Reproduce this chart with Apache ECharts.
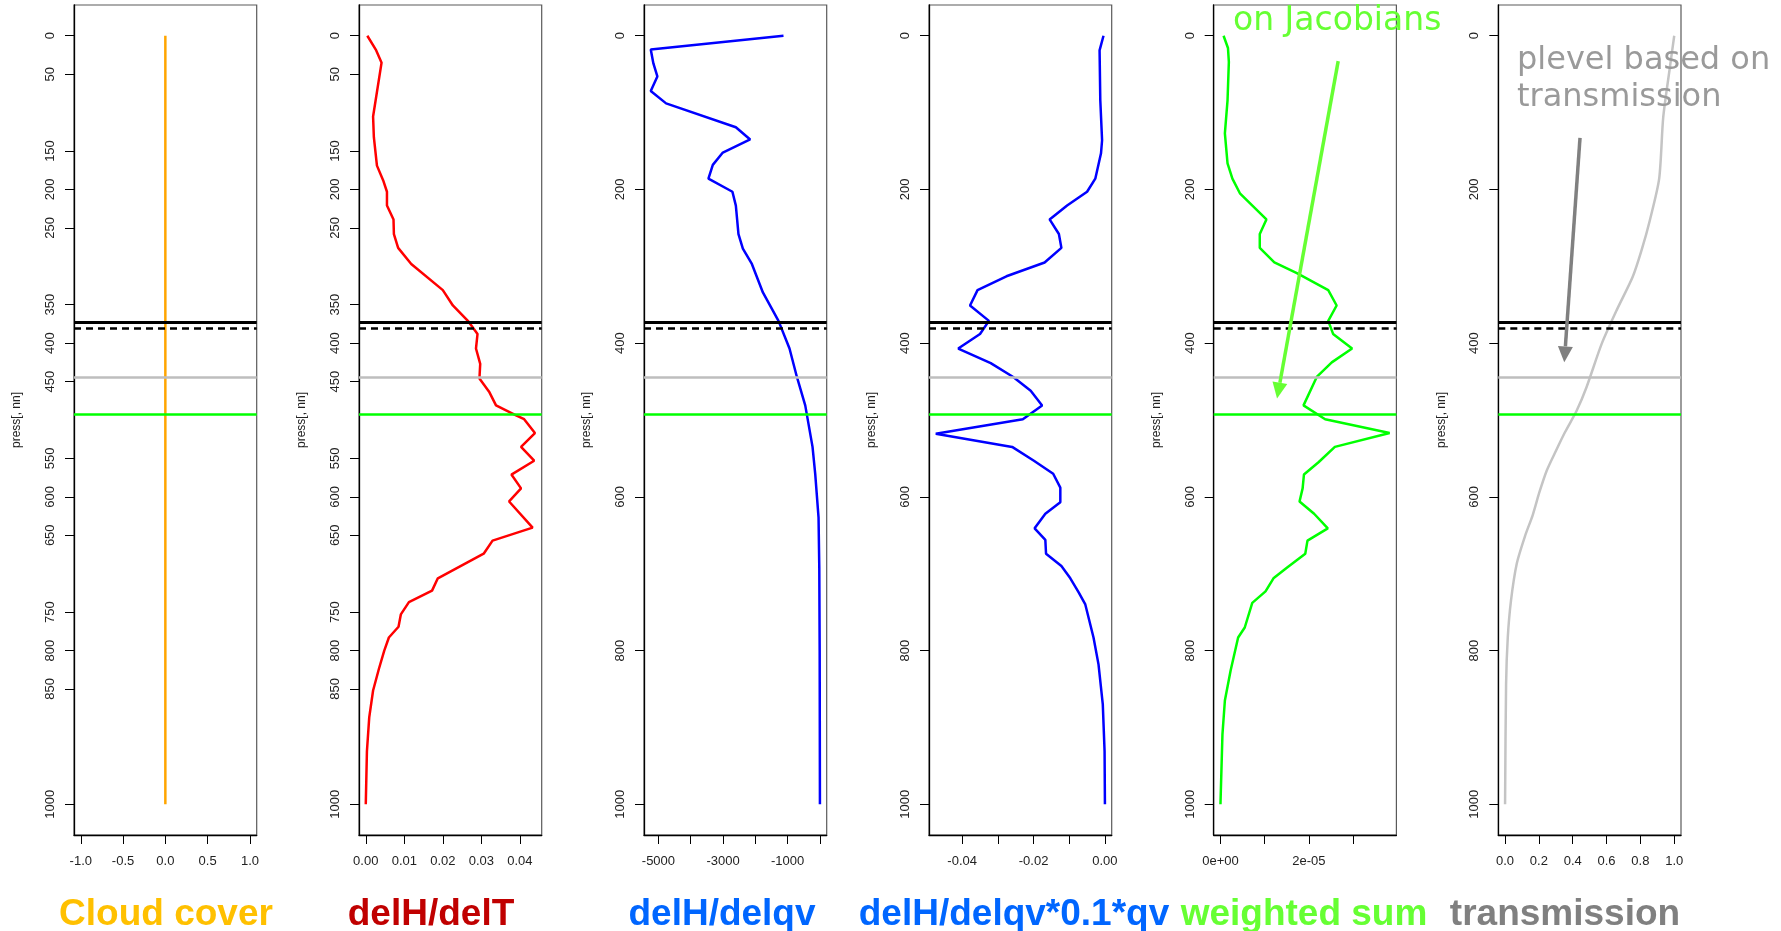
<!DOCTYPE html>
<html>
<head>
<meta charset="utf-8">
<script src="https://cdn.jsdelivr.net/npm/echarts@6/dist/echarts.min.js"></script>
<style>
  html, body { margin: 0; padding: 0; background: #ffffff; }
  #chart { width: 1781px; height: 931px; }
</style>
</head>
<body>
<div id="chart"></div>
<script>
// ---------------------------------------------------------------
// Vertical profiles (pressure in hPa, increasing downwards)
// ---------------------------------------------------------------

// Cloud cover profile
const cloudPres  = [0, 1000];
const cloudCover = [0, 0];

// delH/delT
const delTPres = [0, 18, 35, 105, 132, 169, 188, 203, 221, 239,
                  258, 276, 297, 331, 351, 371, 388, 407, 427, 446,
                  464, 481, 494, 499, 517, 535, 553, 571, 589, 606,
                  640, 657, 674, 706, 722, 737, 753, 769, 783, 800,
                  824, 852, 887, 931, 1000];
const delHdelT = [0.0004, 0.0026, 0.0041, 0.0019, 0.0021, 0.0029, 0.0045, 0.0055, 0.0055, 0.0072,
                  0.0073, 0.0084, 0.0118, 0.0200, 0.0226, 0.0265, 0.0290, 0.0286, 0.0297, 0.0295,
                  0.0321, 0.0338, 0.0390, 0.0411, 0.0439, 0.0403, 0.0437, 0.0378, 0.0403, 0.0372,
                  0.0433, 0.0329, 0.0306, 0.0187, 0.0172, 0.0112, 0.0091, 0.0085, 0.0060, 0.0048,
                  0.0034, 0.0019, 0.0009, 0.0003, 0.0000];

// delH/delqv
const delqvPres = [0, 18, 36, 53, 72, 88, 119, 135, 152, 168,
                   186, 203, 221, 258, 277, 297, 334, 371, 407, 444,
                   481, 535, 570, 627, 692, 800, 1000];
const delHdelqv = [-1128, -5237, -5156, -5033, -5237, -4763, -2603, -2160, -3006, -3316,
                   -3452, -2709, -2603, -2522, -2386, -2107, -1766, -1283, -942, -713,
                   -455, -229, -146, -43, -20, -8, 0];

// delH/delqv*0.1*qv
const scaledPres = [0, 19, 84, 136, 153, 186, 203, 221, 239, 258,
                    276, 295, 313, 331, 351, 371, 388, 407, 426, 444,
                    462, 481, 499, 518, 535, 553, 570, 588, 607, 622,
                    641, 656, 674, 690, 706, 724, 740, 783, 818, 870,
                    931, 1000];
const delHdelqvScaled = [-0.0004, -0.0015, -0.0013, -0.0008, -0.0011, -0.0027, -0.0050, -0.0106, -0.0155, -0.0129,
                         -0.0122, -0.0169, -0.0276, -0.0357, -0.0378, -0.0325, -0.0350, -0.0411, -0.0320, -0.0257,
                         -0.0208, -0.0176, -0.0230, -0.0474, -0.0260, -0.0199, -0.0145, -0.0125, -0.0125, -0.0167,
                         -0.0197, -0.0167, -0.0165, -0.0122, -0.0097, -0.0074, -0.0055, -0.0032, -0.0018, -0.0006,
                         -0.0001, 0.0000];

// weighted sum
const sumPres = [0, 16, 34, 84, 127, 166, 186, 205, 239, 258,
                 276, 295, 309, 331, 351, 371, 388, 407, 425, 444,
                 481, 499, 517, 535, 555, 571, 589, 606, 622, 641,
                 657, 674, 692, 706, 723, 738, 770, 783, 826, 865,
                 909, 1000];
const weightedSum = [0.07e-5, 0.17e-5, 0.19e-5, 0.16e-5, 0.10e-5, 0.16e-5, 0.27e-5, 0.44e-5, 1.04e-5, 0.89e-5,
                     0.89e-5, 1.22e-5, 1.73e-5, 2.44e-5, 2.63e-5, 2.44e-5, 2.55e-5, 2.98e-5, 2.52e-5, 2.18e-5,
                     1.88e-5, 2.37e-5, 3.83e-5, 2.59e-5, 2.22e-5, 1.89e-5, 1.86e-5, 1.79e-5, 2.12e-5, 2.43e-5,
                     1.97e-5, 1.92e-5, 1.51e-5, 1.20e-5, 1.02e-5, 0.72e-5, 0.55e-5, 0.40e-5, 0.23e-5, 0.10e-5,
                     0.045e-5, 0.0];

// transmission
const transPres = [0, 40, 106, 186, 240, 279, 314, 357, 401, 457,
                   488, 516, 540, 566, 594, 624, 651, 687, 735, 783,
                   844, 1000];
const transmission = [1.000, 0.975, 0.935, 0.911, 0.856, 0.807, 0.754, 0.660, 0.571, 0.482,
                      0.423, 0.354, 0.301, 0.246, 0.203, 0.163, 0.118, 0.069, 0.035, 0.016,
                      0.006, 0.000];

// Horizontal reference levels (hPa): solid black, dashed black, grey, green
const levelPres = [373, 380, 445, 493];

// Tick positions and labels
const yTicksFine   = [0, 50, 150, 200, 250, 350, 400, 450, 550, 600, 650, 750, 800, 850, 1000];
const yTicksCoarse = [0, 200, 400, 600, 800, 1000];
const xTicksCloud  = [-1, -0.5, 0, 0.5, 1];
const xTicksDelT   = [0, 0.01, 0.02, 0.03, 0.04];
const xTicksDelqv  = [-5000, -4000, -3000, -2000, -1000, 0];
const xLabelsDelqv = [-5000, -3000, -1000];
const xTicksScaled = [-0.04, -0.03, -0.02, -0.01, 0];
const xLabelsScaled = [-0.04, -0.02, 0];
const xTicksSum    = [0, 1e-5, 2e-5, 3e-5];
const xLabelsSum   = [0, 2e-5];
const xTicksTrans  = [0, 0.2, 0.4, 0.6, 0.8, 1];

// Panel titles
const titles = ['Cloud cover', 'delH/delT', 'delH/delqv', 'delH/delqv*0.1*qv', 'weighted sum', 'transmission'];

// Annotation arrows, in each panel's data coordinates [x, pressure]
const jacArrowFrom   = [2.665e-5, 33];
const jacArrowTo     = [1.281e-5, 472];
const transArrowFrom = [0.443, 133];
const transArrowTo   = [0.350, 425];

// ---------------------------------------------------------------
// Styling / layout
// ---------------------------------------------------------------
const FONT = "'Liberation Sans', Arial, Helvetica, sans-serif";
const HAND = "'Comic Sans MS', 'DejaVu Sans', sans-serif";
const PANEL_LEFT = [74, 359, 644, 929, 1213.7, 1498.3];
const PANEL_W = 182.7, PANEL_TOP = 5, PANEL_H = 830;
const TITLE_X = [166, 431, 722, 1014, 1304, 1565];
const TITLE_COLORS = ['#FFC000', '#C00000', '#0066FF', '#0066FF', '#66FF33', '#808080'];

const levelStyles = [
  { color: '#000000', width: 3, type: 'solid' },
  { color: '#000000', width: 2.5, type: [7, 5] },
  { color: '#BEBEBE', width: 2.5, type: 'solid' },
  { color: '#00FF00', width: 2.5, type: 'solid' }
];

// R-like axis range: data extent padded by 4% on both sides
function paddedRange(values) {
  const lo = Math.min.apply(null, values), hi = Math.max.apply(null, values);
  const d = hi - lo;
  return [lo - 0.04 * d, hi + 0.04 * d];
}

function expLabel(v) {
  if (v === 0) return '0e+00';
  const e = Math.floor(Math.log10(Math.abs(v)) + 1e-9);
  const m = parseFloat((v / Math.pow(10, e)).toPrecision(3));
  const ae = Math.abs(e);
  return m + 'e' + (e < 0 ? '-' : '+') + (ae < 10 ? '0' : '') + ae;
}

const panels = [
  { x: cloudCover, p: cloudPres, color: '#FFA500', range: paddedRange([-1, 1]),
    ticks: xTicksCloud, labels: xTicksCloud, fmt: v => v.toFixed(1), yTicks: yTicksFine, smooth: false },
  { x: delHdelT, p: delTPres, color: '#FF0000', range: paddedRange(delHdelT),
    ticks: xTicksDelT, labels: xTicksDelT, fmt: v => v.toFixed(2), yTicks: yTicksFine, smooth: false },
  { x: delHdelqv, p: delqvPres, color: '#0000FF', range: paddedRange(delHdelqv),
    ticks: xTicksDelqv, labels: xLabelsDelqv, fmt: v => String(Math.round(v)), yTicks: yTicksCoarse, smooth: false },
  { x: delHdelqvScaled, p: scaledPres, color: '#0000FF', range: paddedRange(delHdelqvScaled),
    ticks: xTicksScaled, labels: xLabelsScaled, fmt: v => v.toFixed(2), yTicks: yTicksCoarse, smooth: false },
  { x: weightedSum, p: sumPres, color: '#00FF00', range: paddedRange(weightedSum),
    ticks: xTicksSum, labels: xLabelsSum, fmt: expLabel, yTicks: yTicksCoarse, smooth: false },
  { x: transmission, p: transPres, color: '#C4C4C4', range: paddedRange(transmission),
    ticks: xTicksTrans, labels: xTicksTrans, fmt: v => v.toFixed(1), yTicks: yTicksCoarse, smooth: 0.25 }
];

const presRange = paddedRange([0, 1000]);

const grids = [], xAxes = [], yAxes = [], series = [];
panels.forEach((pn, i) => {
  grids.push({
    left: PANEL_LEFT[i], top: PANEL_TOP, width: PANEL_W, height: PANEL_H,
    show: true, borderColor: '#5a5a5a', borderWidth: 1.2, backgroundColor: 'transparent',
    containLabel: false, outerBoundsMode: 'none'
  });
  xAxes.push({
    type: 'value', gridIndex: i, position: 'bottom',
    min: pn.range[0], max: pn.range[1],
    axisLine: { show: true, onZero: false, lineStyle: { color: '#000', width: 1.3 } },
    axisTick: { show: true, length: 9, customValues: pn.ticks, lineStyle: { color: '#000', width: 1 } },
    axisLabel: { show: true, customValues: pn.labels, formatter: pn.fmt, margin: 20,
                 fontFamily: FONT, fontSize: 13, color: '#222' },
    splitLine: { show: false }
  });
  yAxes.push({
    type: 'value', gridIndex: i, position: 'left', inverse: true,
    min: presRange[0], max: presRange[1],
    name: 'press[, nn]', nameLocation: 'middle', nameGap: 51, nameRotate: 90,
    nameTextStyle: { fontFamily: FONT, fontSize: 12, color: '#222' },
    axisLine: { show: true, onZero: false, lineStyle: { color: '#000', width: 1.3 } },
    axisTick: { show: true, length: 9, customValues: pn.yTicks, lineStyle: { color: '#000', width: 1 } },
    axisLabel: { show: true, customValues: pn.yTicks, rotate: 90, margin: 17,
                 fontFamily: FONT, fontSize: 13, color: '#222', formatter: v => String(Math.round(v)) },
    splitLine: { show: false }
  });
  series.push({
    type: 'line', xAxisIndex: i, yAxisIndex: i,
    data: pn.x.map((v, k) => [v, pn.p[k]]),
    symbol: 'none', smooth: pn.smooth, silent: true, animation: false, clip: true,
    lineStyle: { color: pn.color, width: 2.5 },
    z: 3,
    markLine: {
      silent: true, symbol: ['none', 'none'], animation: false, label: { show: false },
      data: levelPres.map((lp, k) => ({ yAxis: lp, lineStyle: levelStyles[k] }))
    }
  });
});

const chart = echarts.init(document.getElementById('chart'), null, { renderer: 'canvas' });
chart.setOption({
  backgroundColor: '#ffffff',
  animation: false,
  grid: grids, xAxis: xAxes, yAxis: yAxes, series: series
});

// Arrow from a to b (pixels) with a filled head
function arrow(a, b, color, width, headLen, headW) {
  const dx = b[0] - a[0], dy = b[1] - a[1];
  const len = Math.sqrt(dx * dx + dy * dy);
  const ux = dx / len, uy = dy / len, nx = -uy, ny = ux;
  const bx = b[0] - ux * headLen, by = b[1] - uy * headLen;
  return [
    { type: 'line', silent: true, z: 20,
      shape: { x1: a[0], y1: a[1], x2: bx, y2: by },
      style: { stroke: color, lineWidth: width } },
    { type: 'polygon', silent: true, z: 20,
      shape: { points: [[b[0], b[1]], [bx + nx * headW / 2, by + ny * headW / 2], [bx - nx * headW / 2, by - ny * headW / 2]] },
      style: { fill: color } }
  ];
}

const toPx = (idx, pt) => chart.convertToPixel({ xAxisIndex: idx, yAxisIndex: idx }, pt);

const graphics = [];
titles.forEach((t, i) => {
  graphics.push({
    type: 'text', silent: true, x: TITLE_X[i], y: 915,
    style: { text: t, fill: TITLE_COLORS[i], font: 'bold 37px ' + FONT,
             textAlign: 'center', textVerticalAlign: 'middle' }
  });
});
graphics.push({
  type: 'text', silent: true, x: 1233, y: 21, z: 20,
  style: { text: 'on Jacobians', fill: '#66FF33', font: '33px ' + HAND,
           textAlign: 'left', textVerticalAlign: 'middle' }
});
graphics.push({
  type: 'text', silent: true, x: 1517, y: 61, z: 20,
  style: { text: 'plevel based on', fill: '#9A9A9A', font: '32px ' + HAND,
           textAlign: 'left', textVerticalAlign: 'middle' }
});
graphics.push({
  type: 'text', silent: true, x: 1517, y: 98, z: 20,
  style: { text: 'transmission', fill: '#9A9A9A', font: '32px ' + HAND,
           textAlign: 'left', textVerticalAlign: 'middle' }
});
Array.prototype.push.apply(graphics,
  arrow(toPx(4, jacArrowFrom), toPx(4, jacArrowTo), '#66FF33', 3.5, 16, 15));
Array.prototype.push.apply(graphics,
  arrow(toPx(5, transArrowFrom), toPx(5, transArrowTo), '#808080', 3.5, 16, 15));

chart.setOption({ graphic: graphics });
</script>
</body>
</html>
